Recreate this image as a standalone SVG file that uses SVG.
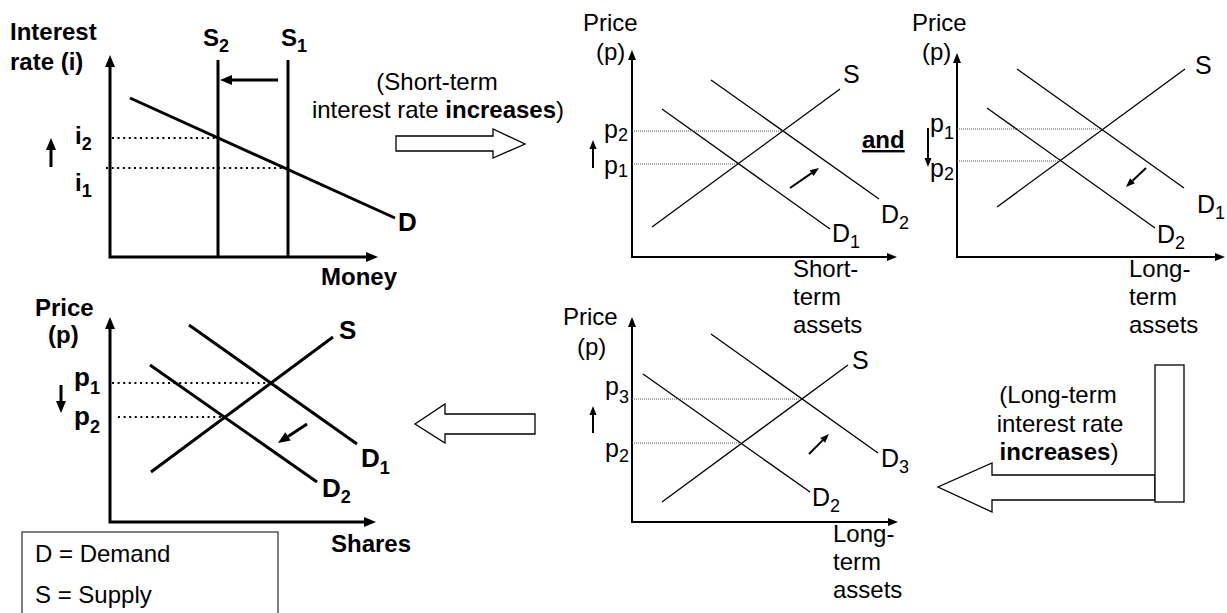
<svg xmlns="http://www.w3.org/2000/svg" width="1227" height="613" viewBox="0 0 1227 613">
<defs>
<style>
.t{font-family:"Liberation Sans",Arial,sans-serif;font-size:24px;fill:#000}
.b{font-weight:bold}
.lab{font-size:25px}
.labb{font-size:26px;font-weight:bold}
.sub{font-size:18px}
.thin{stroke:#000;stroke-width:1.3;fill:none}
.ax{stroke:#000;stroke-width:2;fill:none}
.bold{stroke:#000;stroke-width:3;fill:none}
.dot{stroke:#555;stroke-width:1;stroke-dasharray:1 1;fill:none}
.bdot{stroke:#000;stroke-width:2.2;stroke-dasharray:2 3.6;fill:none}
.hollow{fill:#fff;stroke:#000;stroke-width:1.3}
</style>
<marker id="hT" markerUnits="userSpaceOnUse" markerWidth="10" markerHeight="8" refX="0" refY="4" orient="auto-start-reverse" overflow="visible"><path d="M0,0 L10,4 L0,8z" fill="#000"/></marker>
<marker id="hB" markerUnits="userSpaceOnUse" markerWidth="12" markerHeight="10" refX="0" refY="5" orient="auto-start-reverse" overflow="visible"><path d="M0,0 L12,5 L0,10z" fill="#000"/></marker>
<marker id="hS" markerUnits="userSpaceOnUse" markerWidth="9" markerHeight="7" refX="0" refY="3.5" orient="auto-start-reverse" overflow="visible"><path d="M0,0 L9,3.5 L0,7z" fill="#000"/></marker>
</defs>
<rect width="1227" height="613" fill="#fff"/>

<g id="chart-money">
<path class="bold" d="M110,67 V257 H366" marker-start="url(#hB)" marker-end="url(#hB)"/>
<line class="bold" x1="218" y1="60" x2="218" y2="257"/>
<line class="bold" x1="288" y1="60" x2="288" y2="257"/>
<line class="bold" x1="278" y1="80" x2="232" y2="80" marker-end="url(#hB)"/>
<line class="bold" x1="130" y1="98" x2="395" y2="218"/>
<line class="bdot" x1="112" y1="138" x2="218" y2="138"/>
<line class="bdot" x1="106" y1="168" x2="288" y2="168"/>
<line class="bold" x1="51" y1="167" x2="51" y2="150" marker-end="url(#hB)"/>
<text class="t b" x="10" y="40">Interest</text>
<text class="t b" x="10" y="70">rate (i)</text>
<text class="t b" x="203" y="46">S<tspan class="sub" dy="6">2</tspan></text>
<text class="t b" x="281" y="46">S<tspan class="sub" dy="6">1</tspan></text>
<text class="t b" x="75" y="144">i<tspan class="sub" dy="6">2</tspan></text>
<text class="t b" x="75" y="191">i<tspan class="sub" dy="6">1</tspan></text>
<text class="t labb" x="398" y="231">D</text>
<text class="t b" x="321" y="285">Money</text>
</g>

<g id="chart-short-term">
<path class="ax" d="M632,60 V257 H887" marker-start="url(#hT)" marker-end="url(#hT)"/>
<line class="thin" x1="652" y1="227" x2="840" y2="89"/>
<line class="thin" x1="662" y1="109" x2="830" y2="229"/>
<line class="thin" x1="711" y1="80" x2="879" y2="199"/>
<line class="dot" x1="632" y1="131" x2="783" y2="131"/>
<line class="dot" x1="632" y1="164" x2="738" y2="164"/>
<line class="ax" x1="593" y1="168" x2="593" y2="149" marker-end="url(#hS)"/>
<line class="ax" x1="790" y1="188" x2="811.6" y2="173.1" marker-end="url(#hS)"/>
<text class="t" x="583" y="31">Price</text>
<text class="t" x="596" y="60">(p)</text>
<text class="t lab" x="843" y="83">S</text>
<text class="t lab" x="881" y="223">D<tspan class="sub" dy="6">2</tspan></text>
<text class="t lab" x="832" y="242">D<tspan class="sub" dy="6">1</tspan></text>
<text class="t lab" x="604" y="138">p<tspan class="sub" dy="3">2</tspan></text>
<text class="t lab" x="604" y="174">p<tspan class="sub" dy="3">1</tspan></text>
<text class="t" x="793" y="277">Short-</text>
<text class="t" x="793" y="305">term</text>
<text class="t" x="793" y="333">assets</text>
<text class="t b" x="862" y="148" text-decoration="underline">and</text>
</g>

<g id="chart-long-term-1">
<path class="ax" d="M957,63 V257 H1215" marker-start="url(#hT)" marker-end="url(#hT)"/>
<line class="thin" x1="997" y1="207" x2="1185" y2="69"/>
<line class="thin" x1="1017" y1="69" x2="1184" y2="188"/>
<line class="thin" x1="987" y1="108" x2="1155" y2="228"/>
<line class="dot" x1="957" y1="129" x2="1102" y2="129"/>
<line class="dot" x1="957" y1="161" x2="1060" y2="161"/>
<line class="ax" x1="928" y1="128" x2="928" y2="158" marker-end="url(#hS)"/>
<line class="ax" x1="1146" y1="168" x2="1132.5" y2="180.8" marker-end="url(#hS)"/>
<text class="t" x="912" y="31">Price</text>
<text class="t" x="922" y="60">(p)</text>
<text class="t lab" x="1195" y="74">S</text>
<text class="t lab" x="1197" y="213">D<tspan class="sub" dy="6">1</tspan></text>
<text class="t lab" x="1157" y="243">D<tspan class="sub" dy="6">2</tspan></text>
<text class="t lab" x="930" y="132">p<tspan class="sub" dy="7">1</tspan></text>
<text class="t lab" x="930" y="177">p<tspan class="sub" dy="3">2</tspan></text>
<text class="t" x="1129" y="277">Long-</text>
<text class="t" x="1129" y="305">term</text>
<text class="t" x="1129" y="333">assets</text>
</g>

<g id="chart-shares">
<path class="bold" d="M110,329 V522 H364" marker-start="url(#hB)" marker-end="url(#hB)"/>
<line class="bold" x1="151" y1="472" x2="333" y2="337"/>
<line class="bold" x1="189" y1="325" x2="357" y2="444"/>
<line class="bold" x1="150" y1="365" x2="317" y2="482"/>
<line class="bdot" x1="112" y1="383" x2="271" y2="383"/>
<line class="bdot" x1="118" y1="417" x2="225" y2="417"/>
<line class="bold" x1="61" y1="385" x2="61" y2="401" marker-end="url(#hB)"/>
<line class="bold" x1="307" y1="424" x2="288" y2="436.4" marker-end="url(#hB)"/>
<text class="t b" x="35" y="316">Price</text>
<text class="t b" x="48" y="343">(p)</text>
<text class="t labb" x="339" y="339">S</text>
<text class="t labb" x="361" y="467">D<tspan class="sub" dy="7">1</tspan></text>
<text class="t labb" x="322" y="497">D<tspan class="sub" dy="6">2</tspan></text>
<text class="t labb" x="74" y="386">p<tspan class="sub" dy="8">1</tspan></text>
<text class="t labb" x="74" y="425">p<tspan class="sub" dy="8">2</tspan></text>
<text class="t b" x="331" y="552">Shares</text>
</g>

<g id="legend">
<rect x="22" y="532" width="256" height="100" fill="#fff" stroke="#000" stroke-width="1"/>
<text class="t" x="35" y="562">D = Demand</text>
<text class="t" x="35" y="603">S = Supply</text>
</g>

<g id="chart-long-term-2">
<path class="ax" d="M632,327 V522 H888" marker-start="url(#hT)" marker-end="url(#hT)"/>
<line class="thin" x1="662" y1="502" x2="848" y2="365"/>
<line class="thin" x1="711" y1="334" x2="878" y2="453"/>
<line class="thin" x1="643" y1="374" x2="810" y2="492"/>
<line class="dot" x1="632" y1="399" x2="802" y2="399"/>
<line class="dot" x1="632" y1="443" x2="741" y2="443"/>
<line class="ax" x1="593" y1="433" x2="593" y2="415" marker-end="url(#hS)"/>
<line class="ax" x1="809" y1="454" x2="822.6" y2="440.4" marker-end="url(#hS)"/>
<text class="t" x="563" y="325">Price</text>
<text class="t" x="577" y="355">(p)</text>
<text class="t lab" x="852" y="369">S</text>
<text class="t lab" x="881" y="467">D<tspan class="sub" dy="6">3</tspan></text>
<text class="t lab" x="812" y="506">D<tspan class="sub" dy="6">2</tspan></text>
<text class="t lab" x="605" y="395">p<tspan class="sub" dy="8">3</tspan></text>
<text class="t lab" x="605" y="457">p<tspan class="sub" dy="5">2</tspan></text>
<text class="t" x="833" y="542">Long-</text>
<text class="t" x="833" y="570">term</text>
<text class="t" x="833" y="598">assets</text>
</g>

<g id="connectors">
<polygon class="hollow" points="396,136 493,136 493,129 525,144 493,158 493,151 396,151"/>
<text class="t" x="437" y="90" text-anchor="middle">(Short-term</text>
<text class="t" x="438" y="118" text-anchor="middle">interest rate <tspan class="b">increases</tspan>)</text>
<polygon class="hollow" points="535,414 445,414 445,404 415,424 445,443 445,434 535,434"/>
<polygon class="hollow" points="1155,475 992,475 992,463 938,487 992,512 992,500 1155,500"/>
<rect class="hollow" x="1155" y="365" width="29" height="137"/>
<text class="t" x="1058" y="403" text-anchor="middle">(Long-term</text>
<text class="t" x="1060" y="432" text-anchor="middle">interest rate</text>
<text class="t" x="1059" y="460" text-anchor="middle"><tspan class="b">increases</tspan>)</text>
</g>
</svg>
